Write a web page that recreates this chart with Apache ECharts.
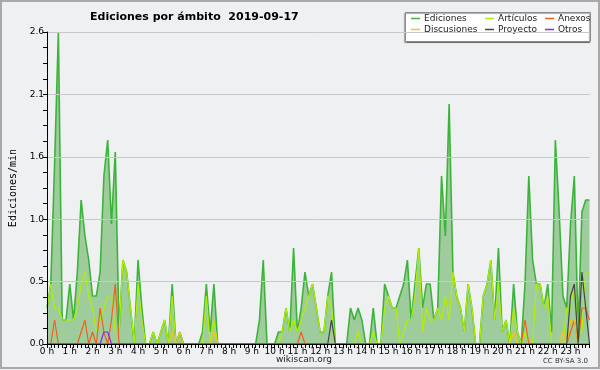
<!DOCTYPE html>
<html><head><meta charset="utf-8">
<script src="https://cdn.jsdelivr.net/npm/echarts@6/dist/echarts.min.js"></script>
<style>html,body{margin:0;padding:0;background:#eff0f2}#c{width:600px;height:370px}</style>
</head><body><div id="c"></div>
<script>
const hourLabels = ['0 h','1 h','2 h','3 h','4 h','5 h','6 h','7 h','8 h','9 h','10 h','11 h','12 h','13 h','14 h','15 h','16 h','17 h','18 h','19 h','20 h','21 h','22 h','23 h'];
const minuteLabels = ['00','10','20','30','40','50'];
const times = [];
for (let h = 0; h < 24; h++) for (const m of minuteLabels) times.push((h < 10 ? '0' + h : '' + h) + ':' + m);

const yTicks = [0, 0.52, 1.04, 1.56, 2.08, 2.6];

const ediciones = [
 0.3,0.5,1.5,2.6,0.2,0.2,0.5,0.2,0.6,1.2,0.9,0.7,
 0.4,0.4,0.6,1.4,1.7,1.0,1.6,0.1,0.7,0.6,0.3,0,
 0.7,0.3,0,0,0.1,0,0.1,0.2,0,0.5,0,0.1,
 0,0,0,0,0,0.1,0.5,0.1,0.5,0,0,0,
 0,0,0,0,0,0,0,0,0.2,0.7,0,0,
 0,0.1,0.1,0.3,0.1,0.8,0.1,0.3,0.6,0.4,0.5,0.3,
 0.1,0.1,0.4,0.6,0,0,0,0,0.3,0.2,0.3,0.2,
 0,0,0.3,0,0,0.5,0.4,0.3,0.3,0.4,0.5,0.7,
 0.2,0.5,0.8,0.3,0.5,0.5,0.2,0.3,1.4,0.9,2.0,0.6,
 0.4,0.3,0.1,0.5,0.3,0,0,0.4,0.5,0.7,0.2,0.8,
 0.1,0.2,0,0.5,0.1,0,0.5,1.4,0.7,0.5,0.5,0.3,
 0.5,0.1,1.7,1.1,0.4,0.3,1.0,1.4,0.1,1.1,1.2,1.2
];
const articulos = [
 0.3,0.5,0.3,0.3,0.2,0.2,0.2,0.2,0.3,0.5,0.6,0.4,
 0.3,0.1,0.2,0.3,0.4,0.4,0.1,0.1,0.7,0.6,0.3,0,
 0.5,0.2,0,0,0.1,0,0.1,0.2,0,0.4,0,0,
 0,0,0,0,0,0,0.4,0,0.2,0,0,0,
 0,0,0,0,0,0,0,0,0,0,0,0,
 0,0,0.1,0.3,0.1,0.2,0.1,0.2,0.3,0.4,0.5,0.3,
 0.1,0.1,0.4,0.3,0,0,0,0,0,0,0.1,0,
 0,0,0.1,0,0,0.3,0.4,0.3,0.3,0,0.1,0.2,
 0.2,0.4,0.8,0.1,0.3,0.2,0.2,0.3,0.2,0.4,0.2,0.6,
 0.4,0.3,0.1,0.5,0.3,0,0,0.4,0.5,0.7,0.2,0.5,
 0.1,0.2,0,0.3,0.1,0,0.1,0,0,0.5,0.5,0.3,
 0.4,0,0,0,0,0.3,0.3,0.5,0.1,0.1,0.6,0.6
];
const anexos = [
 0,0,0.2,0,0,0,0,0,0,0.1,0.2,0,
 0.1,0,0.3,0.1,0,0.2,0.5,0,0,0,0,0,
 0,0,0,0,0,0,0,0,0,0,0,0,
 0,0,0,0,0,0,0,0,0,0,0,0,
 0,0,0,0,0,0,0,0,0,0,0,0,
 0,0,0,0,0,0,0,0.1,0,0,0,0,
 0,0,0,0,0,0,0,0,0,0,0,0,
 0,0,0,0,0,0,0,0,0,0,0,0,
 0,0,0,0,0,0,0,0,0,0,0,0,
 0,0,0,0,0,0,0,0,0,0,0,0,
 0,0,0,0,0,0,0.2,0,0,0,0,0,
 0,0,0,0,0,0,0.1,0.2,0,0.3,0.3,0.2
];
const discusiones = [
 0,0,0,0,0,0,0,0,0,0,0,0,
 0,0,0,0,0,0,0,0,0,0,0,0,
 0,0,0,0,0,0,0,0,0,0.1,0,0.1,
 0,0,0,0,0,0,0,0,0.1,0,0,0,
 0,0,0,0,0,0,0,0,0,0,0,0,
 0,0,0,0,0,0,0,0,0,0,0,0,
 0,0,0,0,0,0,0,0,0,0,0,0,
 0,0,0,0,0,0,0,0,0,0,0,0,
 0,0,0,0,0,0,0,0,0,0,0,0,
 0,0,0,0,0,0,0,0,0,0,0,0,
 0,0,0,0.1,0,0,0,0,0,0,0,0,
 0,0,0,0,0.1,0,0.2,0.2,0,0,0,0
];
const proyecto = [
 0,0,0,0,0,0,0,0,0,0,0,0,
 0,0,0,0,0,0,0,0,0,0,0,0,
 0,0,0,0,0,0,0,0,0,0,0,0,
 0,0,0,0,0,0,0,0,0,0,0,0,
 0,0,0,0,0,0,0,0,0,0,0,0,
 0,0,0,0,0,0,0,0,0,0,0,0,
 0,0,0,0.2,0,0,0,0,0,0,0,0,
 0,0,0,0,0,0,0,0,0,0,0,0,
 0,0,0,0,0,0,0,0,0,0,0,0,
 0,0,0,0,0,0,0,0,0,0,0,0,
 0,0,0,0,0,0,0,0,0,0,0,0,
 0,0,0,0,0,0,0.4,0.5,0,0.6,0.3,0
];
const otros = [
 0,0,0,0,0,0,0,0,0,0,0,0,
 0,0,0,0.1,0.1,0,0,0,0,0,0,0,
 0,0,0,0,0,0,0,0,0,0,0,0,
 0,0,0,0,0,0,0,0,0,0,0,0,
 0,0,0,0,0,0,0,0,0,0,0,0,
 0,0,0,0,0,0,0,0,0,0,0,0,
 0,0,0,0,0,0,0,0,0,0,0,0,
 0,0,0,0,0,0,0,0,0,0,0,0,
 0,0,0,0,0,0,0,0,0,0,0,0,
 0,0,0,0,0,0,0,0,0,0,0,0,
 0,0,0,0,0,0,0,0,0,0,0,0,
 0,0,0,0,0,0,0,0,0,0,0,0
];

const seriesNames = ['Ediciones','Artículos','Anexos','Discusiones','Proyecto','Otros'];
const seriesData = [ediciones, articulos, anexos, discusiones, proyecto, otros];
const colors = ['#3cb43a','#b2ee00','#f0601c','#f2c618','#444444','#8a2be2'];
const legendPos = [[411,14],[485,14],[545,14],[411,25],[485,25],[545,25]];
const FONT = 'DejaVu Sans';

const chart = echarts.init(document.getElementById('c'), null, {renderer:'canvas'});
const series = seriesNames.map((n, k) => {
  const s = {
    name: n, type: 'line', data: seriesData[k], symbol: 'none', showSymbol: false,
    lineStyle: {color: colors[k], width: k === 0 ? 1.6 : 1.2},
    itemStyle: {color: colors[k]}, z: 2 + k, animation: false
  };
  if (k === 0) s.areaStyle = {color: '#9fcc9c', opacity: 1};
  return s;
});
const legends = seriesNames.map((n, k) => ({
  data: [n], left: legendPos[k][0], top: legendPos[k][1], padding: 0,
  icon: 'rect', itemWidth: 9, itemHeight: 1.5, itemGap: 0, selectedMode: false,
  textStyle: {fontSize: 9, color: '#222', fontFamily: FONT, padding: [0,0,0,-1]}
}));

chart.setOption({
  backgroundColor: '#eff0f2',
  animation: false,
  title: {text: 'Ediciones por ámbito  2019-09-17', left: 85, top: 7,
    textStyle: {fontSize: 11, fontWeight: 'bold', color: '#000', fontFamily: FONT}},
  legend: legends,
  grid: {left: 46, right: 10.5, top: 32, bottom: 26, containLabel: false},
  xAxis: {
    type: 'category', data: times, boundaryGap: false, z: 10,
    axisLine: {show: true, lineStyle: {color: '#000', width: 1}},
    axisTick: {show: true, interval: 0, length: 4, lineStyle: {color: '#000'}},
    axisLabel: {interval: 5, formatter: (v, i) => hourLabels[i / 6], fontSize: 9, color: '#000', margin: 3, fontFamily: FONT},
    splitLine: {show: false}
  },
  yAxis: {
    type: 'value', min: yTicks[0], max: yTicks[yTicks.length - 1], interval: yTicks[1], z: 10,
    axisLine: {show: true, lineStyle: {color: '#000'}},
    axisTick: {show: true, length: 4, lineStyle: {color: '#000'}},
    minorTick: {show: true, splitNumber: 4, length: 4, lineStyle: {color: '#000'}},
    splitLine: {show: true, lineStyle: {color: '#c8c8c8', width: 1}},
    axisLabel: {formatter: v => v.toFixed(1), fontSize: 9, color: '#000', margin: 3, fontFamily: FONT},
    name: 'Ediciones/min', nameLocation: 'middle', nameGap: 29, nameRotate: 90,
    nameTextStyle: {fontSize: 10, color: '#000', fontFamily: 'DejaVu Sans Mono'}
  },
  graphic: [
    {type: 'rect', z: -1, shape: {x: 1, y: 1, width: 598, height: 367}, style: {fill: 'none', stroke: '#a8a8a8', lineWidth: 2}},
    {type: 'rect', z: 0, shape: {x: 405.5, y: 12.5, width: 185, height: 29}, style: {fill: '#ffffff', stroke: '#8a8a8a', lineWidth: 1, shadowColor: 'rgba(0,0,0,0.35)', shadowOffsetX: -1, shadowOffsetY: 1, shadowBlur: 1}},
    {type: 'text', left: 276, top: 355, style: {text: 'wikiscan.org', fontSize: 9, fill: '#222', fontFamily: FONT}},
    {type: 'text', right: 12, top: 358, style: {text: 'CC BY-SA 3.0', fontSize: 7, fill: '#333', fontFamily: FONT}}
  ],
  series: series
});
</script></body></html>
